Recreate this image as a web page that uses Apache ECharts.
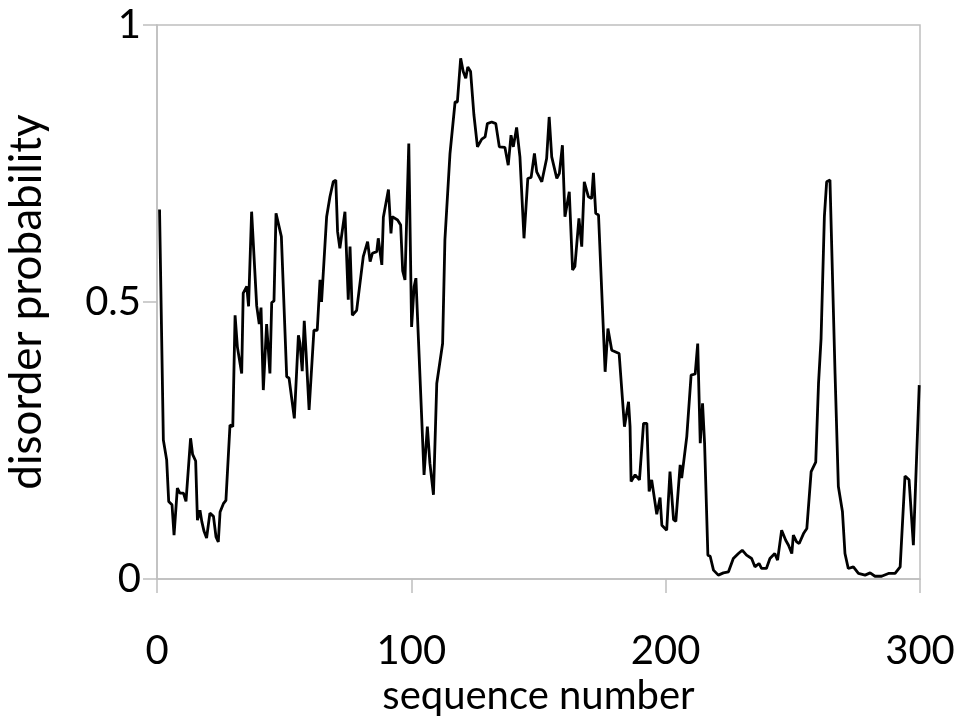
<!DOCTYPE html>
<html>
<head>
<meta charset="utf-8">
<script src="https://cdn.jsdelivr.net/npm/echarts@6/dist/echarts.min.js"></script>
<style>
	html, body { margin: 0; padding: 0; background: #fff; }
	#show { width: 960px; height: 721px; }
</style>
</head>
<body>
<div id="show"></div>
<script>
	// sequence positions (vertices of the trace)
	var seqX = [
		1, 2.5, 3.8, 4.6, 5.9, 6.7, 8.0, 9.0, 10.4, 11.4,
		13.2, 14.0, 15.2, 15.9, 16.9, 17.6, 18.5, 19.5, 20.8, 22.2,
		23.2, 24.1, 24.8, 26.1, 27.1, 28.7, 29.8, 30.7, 31.6, 33.3,
		33.9, 35.3, 36.0, 37.2, 39.2, 40.2, 40.9, 41.8, 43.1, 44.4,
		45.1, 46.0, 46.8, 48.0, 48.9, 51.0, 51.9, 54.0, 55.6, 56.2,
		57.1, 57.9, 58.6, 59.8, 61.7, 63.0, 64.1, 64.7, 66.7, 68.0,
		69.3, 70.3, 71.0, 71.9, 73.9, 75.2, 75.9, 76.8, 78.5, 81.1,
		81.8, 82.8, 83.8, 84.7, 86.4, 87.0, 88.4, 89.0, 91.0, 92.0,
		92.5, 94.6, 95.8, 96.6, 97.5, 99.0, 100.1, 101.1, 101.8, 102.8,
		105.0, 106.3, 107.3, 108.7, 110.0, 112.3, 113.2, 115.2, 117.2, 118.1,
		119.4, 120.4, 121.4, 122.2, 123.3, 124.6, 126.0, 127.7, 129.0, 129.9,
		131.6, 133.2, 134.6, 136.8, 138.1, 139.2, 140.1, 141.4, 142.7, 144.3,
		145.8, 147.1, 148.4, 149.3, 151.3, 153.2, 154.2, 155.2, 157.2, 158.2,
		159.4, 160.4, 162.1, 163.4, 164.3, 165.9, 167.0, 168.0, 169.6, 170.9,
		171.6, 172.5, 173.6, 176.2, 177.3, 178.8, 181.7, 183.8, 185.4, 186.0,
		186.4, 188.0, 189.7, 191.3, 192.6, 193.5, 194.5, 196.5, 197.8, 198.5,
		200.4, 201.7, 203.1, 204.0, 205.7, 206.3, 208.3, 210.0, 211.6, 212.6,
		213.6, 214.5, 215.3, 216.6, 217.5, 218.8, 220.7, 222.7, 224.7, 226.6,
		228.6, 230.1, 231.8, 233.8, 235.1, 236.7, 237.7, 239.6, 241.0, 242.9,
		244.0, 245.6, 247.2, 248.3, 249.6, 250.2, 251.5, 252.5, 254.2, 255.5,
		257.2, 259.0, 260.1, 261.1, 262.4, 263.3, 264.6, 266.6, 267.9, 269.5,
		270.5, 271.8, 273.8, 275.8, 278.4, 280.4, 282.3, 284.9, 287.6, 290.2,
		292.2, 294.1, 295.7, 297.4, 299.7
	];

	// disorder probability at each of those positions
	var prob = [
		0.667, 0.251, 0.215, 0.140, 0.134, 0.079, 0.164, 0.155, 0.155, 0.140,
		0.254, 0.225, 0.213, 0.106, 0.124, 0.104, 0.086, 0.074, 0.119, 0.113,
		0.076, 0.067, 0.121, 0.136, 0.142, 0.278, 0.275, 0.476, 0.419, 0.371,
		0.516, 0.528, 0.492, 0.663, 0.493, 0.460, 0.490, 0.341, 0.460, 0.371,
		0.499, 0.502, 0.660, 0.636, 0.618, 0.365, 0.363, 0.290, 0.440, 0.426,
		0.375, 0.466, 0.410, 0.305, 0.449, 0.449, 0.540, 0.500, 0.654, 0.690,
		0.717, 0.720, 0.627, 0.597, 0.663, 0.504, 0.600, 0.476, 0.485, 0.582,
		0.579, 0.609, 0.573, 0.588, 0.591, 0.615, 0.567, 0.653, 0.703, 0.624,
		0.654, 0.648, 0.639, 0.556, 0.540, 0.786, 0.455, 0.528, 0.543, 0.432,
		0.188, 0.275, 0.209, 0.152, 0.353, 0.425, 0.612, 0.768, 0.861, 0.861,
		0.940, 0.916, 0.904, 0.924, 0.916, 0.838, 0.780, 0.794, 0.798, 0.822,
		0.825, 0.822, 0.780, 0.779, 0.747, 0.801, 0.780, 0.815, 0.762, 0.615,
		0.723, 0.725, 0.768, 0.735, 0.717, 0.759, 0.834, 0.762, 0.723, 0.732,
		0.783, 0.654, 0.699, 0.558, 0.564, 0.651, 0.600, 0.717, 0.690, 0.687,
		0.733, 0.660, 0.657, 0.374, 0.452, 0.413, 0.407, 0.275, 0.320, 0.275,
		0.176, 0.188, 0.179, 0.281, 0.281, 0.158, 0.179, 0.117, 0.147, 0.097,
		0.088, 0.194, 0.107, 0.104, 0.206, 0.182, 0.257, 0.368, 0.370, 0.425,
		0.245, 0.317, 0.245, 0.043, 0.041, 0.016, 0.007, 0.011, 0.013, 0.037,
		0.046, 0.052, 0.043, 0.037, 0.022, 0.028, 0.019, 0.019, 0.037, 0.046,
		0.034, 0.088, 0.070, 0.061, 0.046, 0.079, 0.067, 0.064, 0.082, 0.091,
		0.194, 0.211, 0.353, 0.434, 0.654, 0.717, 0.720, 0.371, 0.167, 0.122,
		0.046, 0.019, 0.022, 0.010, 0.007, 0.011, 0.005, 0.005, 0.010, 0.010,
		0.022, 0.186, 0.179, 0.061, 0.350
	];

	var axisGray = '#bfbfbf';
	var font = 'Lato, "Open Sans", sans-serif';

	var lineData = [];
	for (var i = 0; i < seqX.length; i++) {
		lineData.push([seqX[i], prob[i]]);
	}

	var myEchart = echarts.init(document.getElementById("show"));

	var optionLine = {
		animation: false,
		backgroundColor: '#fff',
		grid: {
			left: 157,
			right: 40,
			top: 25,
			bottom: 142,
			outerBoundsMode: 'none',
			show: true,
			borderColor: axisGray,
			borderWidth: 1.5
		},
		xAxis: {
			type: 'value',
			min: 0,
			max: 300,
			interval: 100,
			name: 'sequence number',
			nameLocation: 'middle',
			nameGap: 92,
			nameTextStyle: { fontSize: 40, fontFamily: font, color: '#000' },
			axisLine: { lineStyle: { color: axisGray, width: 1.5 } },
			axisTick: { length: 14, lineStyle: { color: axisGray, width: 1.5 } },
			axisLabel: { fontSize: 40, fontFamily: font, color: '#000', margin: 52 },
			splitLine: { show: false }
		},
		yAxis: {
			type: 'value',
			min: 0,
			max: 1,
			interval: 0.5,
			name: 'disorder probability',
			nameLocation: 'middle',
			nameGap: 108,
			nameTextStyle: { fontSize: 44, fontFamily: font, color: '#000' },
			axisLine: { show: true, lineStyle: { color: axisGray, width: 1.5 } },
			axisTick: { show: true, length: 14, lineStyle: { color: axisGray, width: 1.5 } },
			axisLabel: { fontSize: 40, fontFamily: font, color: '#000', margin: 16 },
			splitLine: { show: false }
		},
		series: [{
			type: 'line',
			data: lineData,
			showSymbol: false,
			symbol: 'none',
			lineStyle: { color: '#000', width: 2.8 }
		}]
	};

	myEchart.setOption(optionLine);
</script>
</body>
</html>
